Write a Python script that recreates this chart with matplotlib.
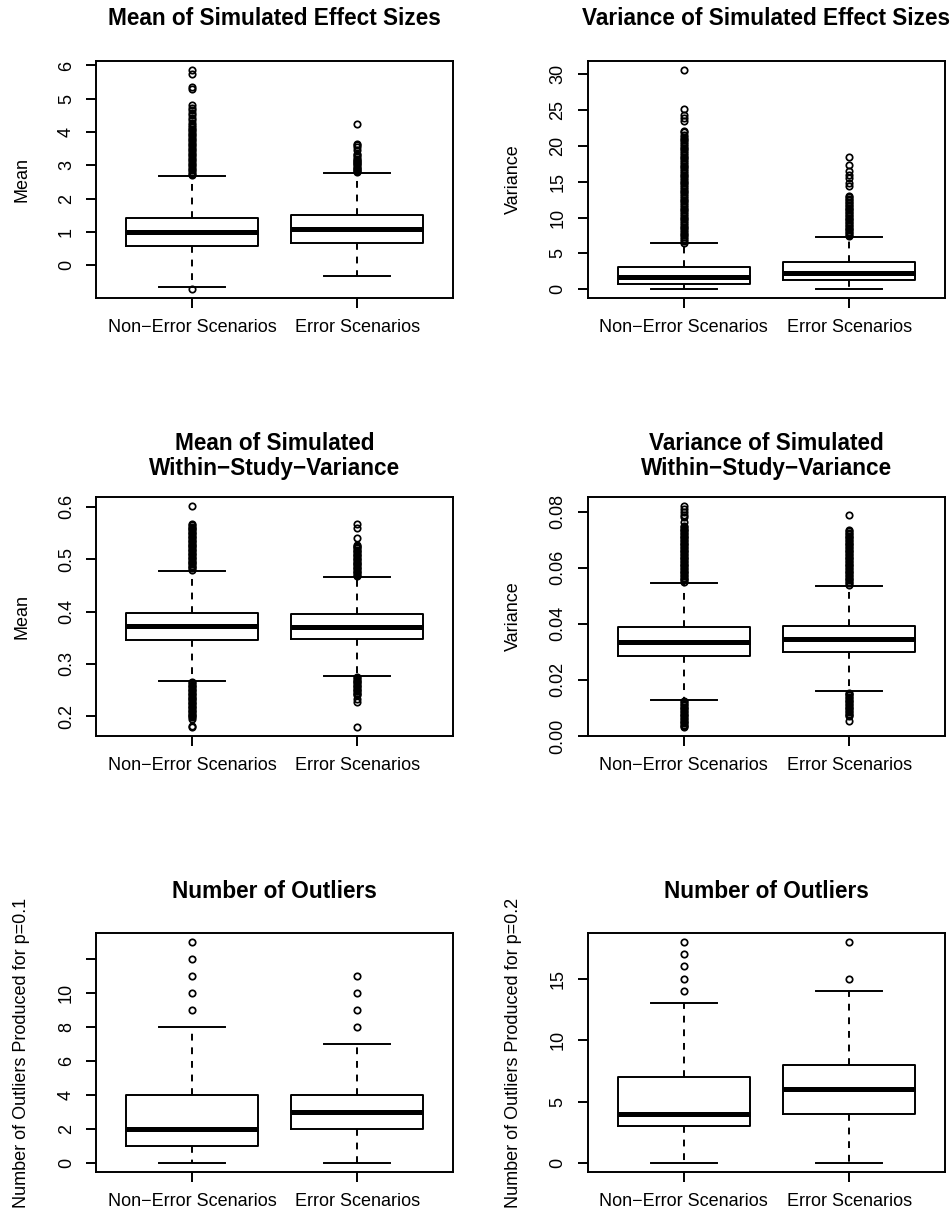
import matplotlib
matplotlib.use("Agg")
import matplotlib.pyplot as plt

plt.rcParams['font.family'] = ['Liberation Sans', 'DejaVu Sans']

W, H = 953, 1217
fig = plt.figure(figsize=(W / 100, H / 100), dpi=100)

groups = ["Non\u2212Error Scenarios", "Error Scenarios"]

# ---- Data: five-number summaries [whislo, q1, median, q3, whishi] and outliers ----
# Panel 1: Mean of simulated effect sizes
p1_ne = [-0.66, 0.58, 1.00, 1.41, 2.67]
p1_err = [-0.31, 0.66, 1.085, 1.50, 2.77]
p1_ne_out = [-0.72,
             2.70, 2.75, 2.80, 2.85, 2.90, 2.95, 3.00, 3.05, 3.10, 3.15, 3.20, 3.25,
             3.30, 3.35, 3.40, 3.45, 3.50, 3.55, 3.60, 3.65, 3.70, 3.75, 3.80, 3.85,
             3.90, 3.95, 4.00, 4.05, 4.10, 4.15, 4.20, 4.28, 4.35, 4.42, 4.50, 4.57,
             4.65, 4.72, 4.80, 5.30, 5.35, 5.75, 5.87]
p1_err_out = [2.80, 2.83, 2.86, 2.90, 2.93, 2.96, 3.00, 3.03, 3.06, 3.10, 3.13, 3.16,
              3.20, 3.25, 3.30, 3.35, 3.45, 3.55, 3.60, 3.65, 4.25]

# Panel 2: Variance of simulated effect sizes
p2_ne = [0.01, 0.75, 1.67, 3.07, 6.46]
p2_err = [0.03, 1.35, 2.28, 3.76, 7.29]
p2_ne_out = [6.5, 6.75, 7.0, 7.25, 7.5, 7.75, 8.0, 8.25, 8.5, 8.75, 9.0, 9.25, 9.5,
             9.75, 10.0, 10.25, 10.5, 10.75, 11.0, 11.25, 11.5, 11.75, 12.0, 12.25,
             12.5, 12.75, 13.0, 13.25, 13.5, 13.75, 14.0, 14.25, 14.5, 14.75, 15.0,
             15.25, 15.5, 15.75, 16.0, 16.25, 16.5, 16.75, 17.0, 17.25, 17.5, 17.75,
             18.0, 18.25, 18.5, 18.75, 19.0, 19.25, 19.5, 19.75, 20.0, 20.25, 20.5,
             20.75, 21.0, 21.25, 21.5, 21.9, 22.1, 23.5, 23.9, 24.3, 25.2, 30.6]
p2_err_out = [7.4, 7.6, 7.8, 8.0, 8.2, 8.4, 8.6, 8.8, 9.0, 9.2, 9.4, 9.6, 9.8, 10.0,
              10.2, 10.4, 10.6, 10.8, 11.0, 11.2, 11.4, 11.6, 11.8, 12.0, 12.2, 12.4,
              12.6, 12.8, 13.0, 14.4, 14.8, 15.5, 16.0, 16.5, 17.3, 18.5]

# Panel 3: Mean of simulated within-study variance
p3_ne = [0.2674, 0.3456, 0.3717, 0.398, 0.478]
p3_err = [0.277, 0.3475, 0.371, 0.3952, 0.4658]
p3_ne_out = [0.4800, 0.4825, 0.4850, 0.4875, 0.4900, 0.4925, 0.4950, 0.4975, 0.5000,
             0.5025, 0.5050, 0.5075, 0.5100, 0.5125, 0.5150, 0.5175, 0.5200, 0.5225,
             0.5250, 0.5275, 0.5300, 0.5325, 0.5350, 0.5375, 0.5400, 0.5425, 0.5450,
             0.5475, 0.5500, 0.5525, 0.5550, 0.5575, 0.5600, 0.5625, 0.5650, 0.568,
             0.602,
             0.2650, 0.2625, 0.2600, 0.2575, 0.2550, 0.2525, 0.2500, 0.2475, 0.2450,
             0.2425, 0.2400, 0.2375, 0.2350, 0.2325, 0.2300, 0.2275, 0.2250, 0.2225,
             0.2200, 0.2175, 0.2150, 0.2125, 0.2100, 0.2075, 0.2050, 0.2025, 0.2000,
             0.1975, 0.1950, 0.182, 0.180]
p3_err_out = [0.4680, 0.4705, 0.4730, 0.4755, 0.4780, 0.4805, 0.4830, 0.4855, 0.4880,
              0.4905, 0.4930, 0.4955, 0.4980, 0.5005, 0.5030, 0.5055, 0.5080, 0.5105,
              0.5130, 0.5155, 0.5180, 0.5205, 0.5230, 0.5255, 0.527, 0.540, 0.560,
              0.567,
              0.2750, 0.2725, 0.2700, 0.2675, 0.2650, 0.2625, 0.2600, 0.2575, 0.2550,
              0.2525, 0.2500, 0.2475, 0.2450, 0.2425, 0.2400, 0.232, 0.228, 0.179]

# Panel 4: Variance of simulated within-study variance
p4_ne = [0.0129, 0.0286, 0.0337, 0.0390, 0.0546]
p4_err = [0.0160, 0.0299, 0.0347, 0.0393, 0.0534]
p4_ne_out = [0.0550, 0.0555, 0.0560, 0.0565, 0.0570, 0.0575, 0.0580, 0.0585, 0.0590,
             0.0595, 0.0600, 0.0605, 0.0610, 0.0615, 0.0620, 0.0625, 0.0630, 0.0635,
             0.0640, 0.0645, 0.0650, 0.0655, 0.0660, 0.0665, 0.0670, 0.0675, 0.0680,
             0.0685, 0.0690, 0.0695, 0.0700, 0.0705, 0.0710, 0.0715, 0.0720, 0.0725,
             0.0730, 0.0735, 0.0740, 0.0745, 0.0750, 0.0765, 0.0780, 0.0790, 0.0800,
             0.0810, 0.0821,
             0.0125, 0.0120, 0.0115, 0.0110, 0.0105, 0.0100, 0.0095, 0.0090, 0.0085,
             0.0080, 0.0075, 0.0070, 0.0065, 0.0060, 0.0055, 0.0050, 0.0045, 0.0040,
             0.0035, 0.0033]
p4_err_out = [0.0540, 0.0545, 0.0550, 0.0555, 0.0560, 0.0565, 0.0570, 0.0575, 0.0580,
              0.0585, 0.0590, 0.0595, 0.0600, 0.0605, 0.0610, 0.0615, 0.0620, 0.0625,
              0.0630, 0.0635, 0.0640, 0.0645, 0.0650, 0.0655, 0.0660, 0.0665, 0.0670,
              0.0675, 0.0680, 0.0685, 0.0690, 0.0695, 0.0700, 0.0705, 0.0710, 0.0715,
              0.0720, 0.0725, 0.0730, 0.0735, 0.0790,
              0.0155, 0.0150, 0.0145, 0.0140, 0.0135, 0.0130, 0.0125, 0.0120, 0.0115,
              0.0110, 0.0105, 0.0100, 0.0095, 0.0090, 0.0085, 0.0080, 0.0075, 0.0070,
              0.0052]

# Panel 5: Number of outliers, p=0.1
p5_ne = [0, 1, 2, 4, 8]
p5_err = [0, 2, 3, 4, 7]
p5_ne_out = [9, 10, 11, 12, 13]
p5_err_out = [8, 9, 10, 11]

# Panel 6: Number of outliers, p=0.2
p6_ne = [0, 3, 4, 7, 13]
p6_err = [0, 4, 6, 8, 14]
p6_ne_out = [14, 15, 16, 17, 18]
p6_err_out = [15, 18]

# tick labels
p1_yt = [0, 1, 2, 3, 4, 5, 6]
p2_yt = [0, 5, 10, 15, 20, 25, 30]
p3_yt = [0.2, 0.3, 0.4, 0.5, 0.6]
p4_yt = [0.00, 0.02, 0.04, 0.06, 0.08]
p5_yt = [0, 2, 4, 6, 8, 10, 12]
p5_ytl = ["0", "2", "4", "6", "8", "10", ""]
p6_yt = [0, 5, 10, 15]

FS = 13
TFS = 16.3
LW = 1.4


def panel(rect, ne, err, ne_out, err_out, yt, ytl, ylabel, ylab_x, titles, baselines):
    l, t, r, b = rect
    ax = fig.add_axes([l / W, 1 - b / H, (r - l) / W, (b - t) / H])
    stats = []
    for s, f in ((ne, ne_out), (err, err_out)):
        stats.append(dict(whislo=s[0], q1=s[1], med=s[2], q3=s[3], whishi=s[4], fliers=f))
    ax.bxp(stats, positions=[1, 2], widths=0.8, capwidths=0.4, showfliers=True,
           boxprops=dict(lw=LW, color='black'),
           medianprops=dict(lw=3.6, color='black', solid_capstyle='butt'),
           whiskerprops=dict(lw=LW, ls=(0, (3.5, 3.5)), color='black'),
           capprops=dict(lw=LW, color='black'),
           flierprops=dict(marker='o', mfc='none', mec='black', ms=4.6, mew=1.25, ls='none'))
    allv = list(ne) + list(err) + list(ne_out) + list(err_out)
    lo, hi = min(allv), max(allv)
    pad = 0.04 * (hi - lo)
    ax.set_ylim(lo - pad, hi + pad)
    xpad = 0.04 * 2.0
    ax.set_xlim(0.5 - xpad, 2.5 + xpad)
    ax.set_xticks([1, 2], groups)
    ax.set_yticks(yt, ytl)
    for sp in ax.spines.values():
        sp.set_linewidth(LW)
    ax.tick_params(axis='both', direction='out', length=7.2, width=LW, labelsize=FS)
    ax.tick_params(axis='x', pad=7.6)
    ax.tick_params(axis='y', pad=8.3, labelrotation=90)
    for lab in ax.get_yticklabels():
        lab.set_va('center')
    cy = 1 - ((t + b) / 2) / H
    fig.text(ylab_x / W, cy, ylabel, rotation=90, ha='center', va='center', fontsize=FS)
    cx = ((l + r) / 2) / W
    for txt, bl in zip(titles, baselines):
        fig.text(cx, 1 - bl / H, txt, ha='center', va='baseline', fontsize=TFS,
                 fontweight='bold')
    return ax


L_COL = (96.5, 453)
R_COL = (588, 945)
ROWS = [(61, 298), (497, 736), (933, 1172)]

panel((L_COL[0], ROWS[0][0], L_COL[1], ROWS[0][1]), p1_ne, p1_err, p1_ne_out, p1_err_out,
      p1_yt, [str(v) for v in p1_yt], "Mean", 22, ["Mean of Simulated Effect Sizes"], [25])
panel((R_COL[0], ROWS[0][0], R_COL[1], ROWS[0][1]), p2_ne, p2_err, p2_ne_out, p2_err_out,
      p2_yt, [str(v) for v in p2_yt], "Variance", 513, ["Variance of Simulated Effect Sizes"], [25])
panel((L_COL[0], ROWS[1][0], L_COL[1], ROWS[1][1]), p3_ne, p3_err, p3_ne_out, p3_err_out,
      p3_yt, [f"{v:.1f}" for v in p3_yt], "Mean", 22,
      ["Mean of Simulated", "Within\u2212Study\u2212Variance"], [450, 475])
panel((R_COL[0], ROWS[1][0], R_COL[1], ROWS[1][1]), p4_ne, p4_err, p4_ne_out, p4_err_out,
      p4_yt, [f"{v:.2f}" for v in p4_yt], "Variance", 513,
      ["Variance of Simulated", "Within\u2212Study\u2212Variance"], [450, 475])
panel((L_COL[0], ROWS[2][0], L_COL[1], ROWS[2][1]), p5_ne, p5_err, p5_ne_out, p5_err_out,
      p5_yt, p5_ytl, "Number of Outliers Produced for p=0.1", 22, ["Number of Outliers"], [898])
panel((R_COL[0], ROWS[2][0], R_COL[1], ROWS[2][1]), p6_ne, p6_err, p6_ne_out, p6_err_out,
      p6_yt, [str(v) for v in p6_yt], "Number of Outliers Produced for p=0.2", 513,
      ["Number of Outliers"], [898])

fig.savefig("out.png", dpi=100, facecolor='white')
